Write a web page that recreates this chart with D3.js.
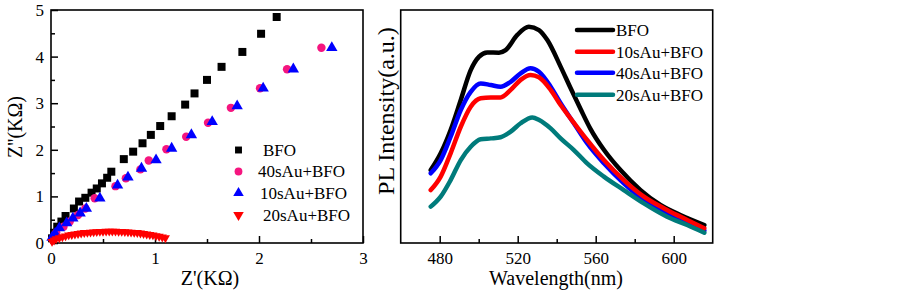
<!DOCTYPE html>
<html><head><meta charset="utf-8">
<script src="https://cdn.jsdelivr.net/npm/d3@7"></script>
<style>
html,body{margin:0;padding:0;background:#fff;}
text{font-family:"Liberation Serif","Times New Roman",serif;fill:#000;}
</style></head>
<body>
<svg id="c" width="903" height="293"></svg>
<script>
// ---------- Left panel data: Nyquist plot (Z' , Z'') in KΩ ----------
const bfoX = [0.01,0.03,0.06,0.10,0.14,0.22,0.27,0.33,0.39,0.44,0.49,0.54,0.58,0.70,0.79,0.88,0.96,1.05,1.16,1.29,1.38,1.50,1.64,1.84,2.02,2.17];
const bfoY = [0.10,0.22,0.35,0.46,0.58,0.74,0.89,0.97,1.08,1.17,1.28,1.40,1.53,1.80,1.96,2.14,2.32,2.51,2.72,2.97,3.21,3.50,3.78,4.10,4.49,4.85];
const au40X = [0.02,0.05,0.12,0.18,0.26,0.33,0.42,0.62,0.72,0.86,0.94,1.11,1.30,1.51,1.73,2.01,2.27,2.60];
const au40Y = [0.10,0.22,0.35,0.46,0.60,0.74,0.96,1.22,1.39,1.58,1.77,2.01,2.28,2.58,2.90,3.32,3.73,4.19];
const au10X = [0.01,0.04,0.08,0.15,0.21,0.28,0.34,0.47,0.64,0.74,0.87,1.01,1.16,1.35,1.55,1.79,2.04,2.33,2.70];
const au10Y = [0.12,0.20,0.32,0.43,0.53,0.64,0.74,0.96,1.24,1.41,1.60,1.78,2.03,2.32,2.60,2.94,3.32,3.73,4.19];
const au20X = [0.01,0.03,0.05,0.08,0.11,0.14,0.17,0.20,0.23,0.26,0.29,0.32,0.35,0.38,0.41,0.44,0.47,0.50,0.53,0.56,0.59,0.62,0.65,0.68,0.71,0.74,0.77,0.80,0.83,0.86,0.89,0.92,0.95,0.98,1.01,1.04,1.07,1.10];
const au20Y = [0.03,0.06,0.09,0.11,0.13,0.15,0.17,0.18,0.19,0.20,0.21,0.22,0.225,0.23,0.235,0.24,0.245,0.245,0.25,0.25,0.25,0.25,0.245,0.245,0.24,0.235,0.23,0.225,0.22,0.21,0.20,0.19,0.18,0.17,0.155,0.14,0.125,0.11];
const leftXTicks = [0,1,2,3];
const leftYTicks = [0,1,2,3,4,5];

// ---------- Right panel data: PL spectra ----------
const wlBFO  = [475.4,480.5,485.6,490.8,495.9,500.2,504.4,510.4,513.8,519.8,525.7,530.9,535.2,542.0,547.1,552.3,557.3,564.2,572.7,583.0,593.2,603.4,615.7];
const plBFO  = [31.3,38.5,48.5,61.4,74.2,80.0,81.8,81.7,82.8,89.3,92.8,91.4,87.1,75.7,66.5,57.4,49.0,40.0,31.3,22.7,16.3,12.0,7.7];
const wl10   = [475.4,480.5,485.6,490.8,495.9,501.0,506.2,511.2,516.4,521.5,526.6,530.9,536.9,542.0,547.1,555.6,564.2,574.4,584.7,596.6,606.9,615.7];
const pl10   = [22.7,28.5,38.5,49.9,58.5,62.1,62.5,62.5,65.7,70.0,72.1,71.1,65.7,59.2,53.5,44.2,35.6,27.0,19.9,14.2,9.9,6.3];
const wl40   = [475.4,480.5,485.6,490.8,495.9,501.0,506.2,511.2,516.4,521.5,526.6,530.9,536.9,542.0,548.8,555.6,564.2,574.4,584.7,596.6,606.9,615.7];
const pl40   = [29.9,35.6,45.6,57.1,64.9,68.5,67.8,67.1,69.2,72.8,75.0,73.5,67.1,60.0,51.4,42.8,34.2,25.6,18.5,12.7,8.5,5.3];
const wl20   = [475.4,480.5,485.6,490.8,495.9,501.0,506.2,511.2,516.4,521.5,527.5,531.0,536.9,542.0,548.8,555.6,564.2,574.4,584.7,596.6,606.9,615.7];
const pl20   = [15.6,19.9,27.0,35.6,41.3,44.5,44.9,45.4,47.8,51.4,53.9,52.8,49.2,44.9,39.9,34.2,28.5,22.7,17.0,11.3,7.7,4.4];
const rightXTicks = [480,520,560,600];
const rightMinorTicks = [500,540,580];

const svg = d3.select("#c");
const SERIF = "'Liberation Serif','Times New Roman',serif";

// ================= LEFT PANEL =================
const L = {x0:51, x1:363, y0:243, y1:10};
const xL = d3.scaleLinear().domain([0,3]).range([L.x0,L.x1]);
const yL = d3.scaleLinear().domain([0,5]).range([L.y0,L.y1]);

const gL = svg.append("g");
const xAxL = d3.axisBottom(xL).tickValues(leftXTicks).tickSize(-7).tickPadding(9).tickFormat(d3.format("d"));
const xAxLm = d3.axisBottom(xL).tickValues([0.5,1.5,2.5]).tickSize(-4).tickFormat("");
const yAxL = d3.axisLeft(yL).tickValues(leftYTicks).tickSize(-7).tickPadding(7).tickFormat(d3.format("d"));
const yAxLm = d3.axisLeft(yL).tickValues([0.5,1.5,2.5,3.5,4.5]).tickSize(-4).tickFormat("");
function styleAxis(g){
  g.attr("font-family",SERIF).attr("font-size",17);
  g.select(".domain").remove();
  g.selectAll("line").attr("stroke","#000").attr("stroke-width",1.5);
  g.selectAll("text").style("font-family",SERIF).style("font-size","17px").attr("fill","#000");
}
gL.append("g").attr("transform",`translate(0,${L.y0})`).call(xAxL).call(styleAxis);
gL.append("g").attr("transform",`translate(0,${L.y0})`).call(xAxLm).call(styleAxis);
gL.append("g").attr("transform",`translate(${L.x0},0)`).call(yAxL).call(styleAxis);
gL.append("g").attr("transform",`translate(${L.x0},0)`).call(yAxLm).call(styleAxis);
gL.append("rect").attr("x",L.x0).attr("y",L.y1).attr("width",L.x1-L.x0).attr("height",L.y0-L.y1)
  .attr("fill","none").attr("stroke","#000").attr("stroke-width",1.6);

const sq = d3.symbol().type(d3.symbolSquare).size(64);
const ci = d3.symbol().type(d3.symbolCircle).size(56);
const tr = d3.symbol().type(d3.symbolTriangle).size(56);
const trd = d3.symbol().type(d3.symbolTriangle).size(36);

gL.append("g").selectAll("path").data(d3.range(bfoX.length)).join("path")
  .attr("d",sq).attr("fill","#000")
  .attr("transform",i=>`translate(${xL(bfoX[i])},${yL(bfoY[i])})`);
gL.append("g").selectAll("path").data(d3.range(au40X.length)).join("path")
  .attr("d",ci).attr("fill","#f5157f")
  .attr("transform",i=>`translate(${xL(au40X[i])},${yL(au40Y[i])})`);
gL.append("g").selectAll("path").data(d3.range(au10X.length)).join("path")
  .attr("d",tr).attr("fill","#0000ff")
  .attr("transform",i=>`translate(${xL(au10X[i])},${yL(au10Y[i])})`);
gL.append("g").selectAll("path").data(d3.range(au20X.length)).join("path")
  .attr("d",trd).attr("fill","#ff0000")
  .attr("transform",i=>`translate(${xL(au20X[i])},${yL(au20Y[i])}) rotate(180)`);

// left legend
const legL = [
  {sym:d3.symbol().type(d3.symbolSquare).size(48), c:"#000", t:"BFO", rot:0, tx:263},
  {sym:d3.symbol().type(d3.symbolCircle).size(48), c:"#f5157f", t:"40sAu+BFO", rot:0, tx:258},
  {sym:d3.symbol().type(d3.symbolTriangle).size(48), c:"#0000ff", t:"10sAu+BFO", rot:0, tx:260},
  {sym:d3.symbol().type(d3.symbolTriangle).size(48), c:"#ff0000", t:"20sAu+BFO", rot:180, tx:263}
];
const legLY = [150,171.5,193,215];
legL.forEach((d,i)=>{
  gL.append("path").attr("d",d.sym).attr("fill",d.c)
    .attr("transform",`translate(238.5,${legLY[i]}) rotate(${d.rot})`);
  gL.append("text").attr("x",d.tx).attr("y",legLY[i]).attr("dy","0.35em")
    .style("font-size","17px").text(d.t);
});
// axis titles
gL.append("text").attr("x",210).attr("y",285).attr("text-anchor","middle").style("font-size","20px").text("Z'(KΩ)");
gL.append("text").attr("transform","translate(22,127) rotate(-90)").attr("text-anchor","middle").style("font-size","20px").text("Z''(KΩ)");

// ================= RIGHT PANEL =================
const R = {x0:400.7, x1:712.7, y0:243, y1:10};
const xR = d3.scaleLinear().domain([460,620]).range([R.x0,R.x1]);
const yR = d3.scaleLinear().domain([0,100]).range([R.y0,R.y1]);
const gR = svg.append("g");
const xAxR = d3.axisBottom(xR).tickValues(rightXTicks).tickSize(-7).tickPadding(9).tickFormat(d3.format("d"));
const xAxRm = d3.axisBottom(xR).tickValues(rightMinorTicks).tickSize(-4).tickFormat("");
gR.append("g").attr("transform",`translate(0,${R.y0})`).call(xAxR).call(styleAxis);
gR.append("g").attr("transform",`translate(0,${R.y0})`).call(xAxRm).call(styleAxis);
gR.append("rect").attr("x",R.x0).attr("y",R.y1).attr("width",R.x1-R.x0).attr("height",R.y0-R.y1)
  .attr("fill","none").attr("stroke","#000").attr("stroke-width",1.6);

const line = d3.line().x(d=>xR(d[0])).y(d=>yR(d[1])).curve(d3.curveMonotoneX);
const series = [
  {wl:wlBFO, v:plBFO, c:"#000000"},
  {wl:wl40, v:pl40, c:"#0000ff"},
  {wl:wl10, v:pl10, c:"#ff0000"},
  {wl:wl20, v:pl20, c:"#007b7b"}
];
series.forEach(s=>{
  gR.append("path").datum(s.wl.map((w,i)=>[w,s.v[i]])).attr("d",line)
    .attr("fill","none").attr("stroke",s.c).attr("stroke-width",4.5).attr("stroke-linecap","round").attr("stroke-linejoin","round");
});
// right legend
const legR = [
  {c:"#000000", t:"BFO"},
  {c:"#ff0000", t:"10sAu+BFO"},
  {c:"#0000ff", t:"40sAu+BFO"},
  {c:"#007b7b", t:"20sAu+BFO"}
];
const legRY = [30,51.7,72.7,94.7];
legR.forEach((d,i)=>{
  gR.append("line").attr("x1",577).attr("x2",613).attr("y1",legRY[i]).attr("y2",legRY[i])
    .attr("stroke",d.c).attr("stroke-width",4.5).attr("stroke-linecap","round");
  gR.append("text").attr("x",616).attr("y",legRY[i]).attr("dy","0.35em").style("font-size","17px").text(d.t);
});
gR.append("text").attr("x",556).attr("y",285).attr("text-anchor","middle").style("font-size","20px").text("Wavelength(nm)");
gR.append("text").attr("transform","translate(394,111) rotate(-90)").attr("text-anchor","middle").style("font-size","24px").text("PL Intensity(a.u.)");
</script>
</body></html>
